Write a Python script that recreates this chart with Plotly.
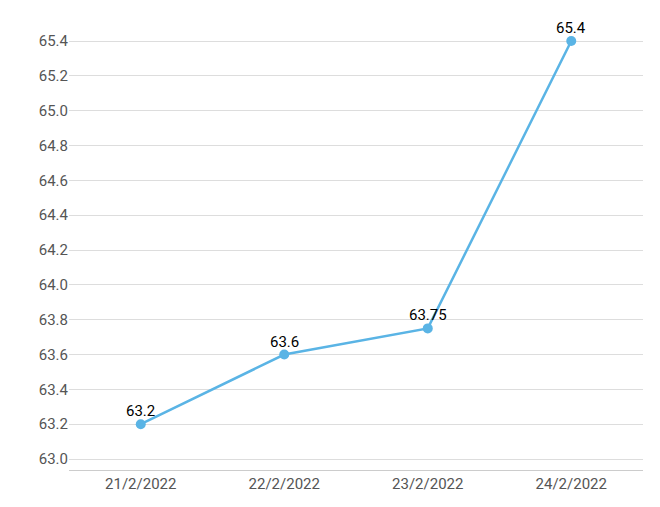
import plotly.graph_objects as go

dates = ["21/2/2022", "22/2/2022", "23/2/2022", "24/2/2022"]
values = [63.2, 63.6, 63.75, 65.4]
labels = ["63.2", "63.6", "63.75", "65.4"]

fig = go.Figure(go.Scatter(
    x=dates, y=values, mode="lines+markers",
    line=dict(color="#5AB4E5", width=2.5),
    marker=dict(color="#5AB4E5", size=10),
    cliponaxis=False,
))

# data labels sit just above each point
for d, v, t in zip(dates, values, labels):
    fig.add_annotation(x=d, y=v, text=t, showarrow=False, yshift=13,
                       font=dict(color="black", size=15, family="Roboto"))

fig.update_layout(
    width=660, height=507,
    margin=dict(l=61, r=25, t=20, b=45, autoexpand=False),
    plot_bgcolor="white", paper_bgcolor="white",
    font=dict(family="Roboto", size=15, color="#555555"),
    showlegend=False,
)
fig.update_xaxes(type="category", showgrid=False, showline=True, automargin=False,
                 linecolor="#cccccc", ticks="", range=[-0.5, 3.5])
fig.update_yaxes(range=[62.937, 65.475], tickvals=[63 + 0.2 * i for i in range(13)],
                 tickformat=".1f", gridcolor="#dddddd", zeroline=False,
                 automargin=False, ticks="")

fig.write_html("out.html")
